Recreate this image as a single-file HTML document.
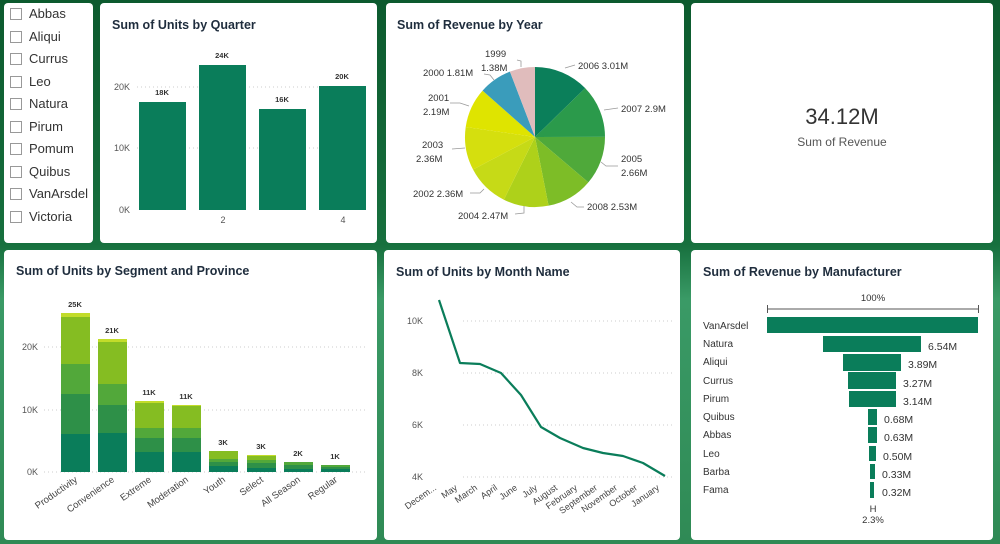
<!DOCTYPE html>
<html><head><meta charset="utf-8"><style>
html,body{margin:0;padding:0;width:1000px;height:544px;overflow:hidden;font-family:"Liberation Sans",sans-serif}
svg text{font-family:"Liberation Sans",sans-serif}
</style></head><body>
<svg id="s" width="1000" height="544" viewBox="0 0 1000 544" xmlns="http://www.w3.org/2000/svg">
<defs>
<linearGradient id="bg" x1="0" y1="0" x2="0" y2="1">
<stop offset="0" stop-color="#0c5a2e"/><stop offset="0.45" stop-color="#17703e"/><stop offset="0.55" stop-color="#3a9a66"/><stop offset="1" stop-color="#2f8a55"/>
</linearGradient>
</defs>
<rect width="1000" height="544" fill="url(#bg)"/>
<g fill="#fff">
<rect x="4" y="3" width="89" height="240" rx="4"/>
<rect x="100" y="3" width="277" height="240" rx="4"/>
<rect x="386" y="3" width="298" height="240" rx="4"/>
<rect x="691" y="3" width="302" height="240" rx="4"/>
<rect x="4" y="250" width="373" height="290" rx="4"/>
<rect x="384" y="250" width="296" height="290" rx="4"/>
<rect x="691" y="250" width="302" height="290" rx="4"/>
</g>
<!-- slicer -->
<g font-size="13" fill="#333">
<g fill="#fff" stroke="#999" stroke-width="1">
<rect x="10.5" y="8.5" width="11" height="11"/><rect x="10.5" y="31.5" width="11" height="11"/><rect x="10.5" y="53.5" width="11" height="11"/><rect x="10.5" y="76.5" width="11" height="11"/><rect x="10.5" y="98.5" width="11" height="11"/><rect x="10.5" y="121.5" width="11" height="11"/><rect x="10.5" y="143.5" width="11" height="11"/><rect x="10.5" y="166.5" width="11" height="11"/><rect x="10.5" y="188.5" width="11" height="11"/><rect x="10.5" y="211.5" width="11" height="11"/>
</g>
<text x="29" y="18">Abbas</text><text x="29" y="41">Aliqui</text><text x="29" y="63">Currus</text><text x="29" y="86">Leo</text><text x="29" y="108">Natura</text><text x="29" y="131">Pirum</text><text x="29" y="153">Pomum</text><text x="29" y="176">Quibus</text><text x="29" y="198">VanArsdel</text><text x="29" y="221">Victoria</text>
</g>
<!-- titles -->
<g font-size="12.5" font-weight="bold" fill="#1f2d3d">
<text x="112" y="29">Sum of Units by Quarter</text>
<text x="397" y="29">Sum of Revenue by Year</text>
<text x="16" y="275">Sum of Units by Segment and Province</text>
<text x="396" y="276">Sum of Units by Month Name</text>
<text x="703" y="276">Sum of Revenue by Manufacturer</text>
</g>
<!-- quarter -->
<g font-size="9" fill="#555">
<line x1="137" y1="87" x2="368" y2="87" stroke="#ccc" stroke-dasharray="1,3"/>
<line x1="137" y1="148" x2="368" y2="148" stroke="#ccc" stroke-dasharray="1,3"/>
<text x="130" y="90" text-anchor="end">20K</text><text x="130" y="151" text-anchor="end">10K</text><text x="130" y="213" text-anchor="end">0K</text>
<g fill="#0a7d5a"><rect x="139" y="102" width="47" height="108"/><rect x="199" y="65" width="47" height="145"/><rect x="259" y="109" width="47" height="101"/><rect x="319" y="86" width="47" height="124"/></g>
<g font-size="7.5" font-weight="bold" fill="#333" text-anchor="middle"><text x="162" y="95">18K</text><text x="222" y="58">24K</text><text x="282" y="102">16K</text><text x="342" y="79">20K</text></g>
<text x="223" y="223" text-anchor="middle">2</text><text x="343" y="223" text-anchor="middle">4</text>
</g>
<!-- pie -->
<g id="pie"></g>
<g font-size="9.5" fill="#333">
<text x="578" y="69">2006 3.01M</text><text x="621" y="112">2007 2.9M</text>
<text x="621" y="162">2005</text><text x="621" y="176">2.66M</text>
<text x="587" y="210">2008 2.53M</text><text x="458" y="219">2004 2.47M</text>
<text x="413" y="197">2002 2.36M</text>
<text x="422" y="148">2003</text><text x="416" y="162">2.36M</text>
<text x="428" y="101">2001</text><text x="423" y="115">2.19M</text>
<text x="423" y="76">2000 1.81M</text>
<text x="485" y="57">1999</text><text x="481" y="71">1.38M</text>
</g>
<g stroke="#999" fill="none" stroke-width="0.8">
<polyline points="565,68 575,65"/><polyline points="604,110 618,108"/><polyline points="601,162 606,166 618,166"/><polyline points="571,202 577,207 584,207"/><polyline points="524,206 524,213 515,214"/><polyline points="484,189 480,193 470,193"/><polyline points="465,148 452,149"/><polyline points="469,106 460,103 450,103"/><polyline points="494,80 490,75 484,74"/><polyline points="521,67 521,61 517,60"/>
</g>
<!-- card -->
<text x="842" y="124" font-size="22" fill="#333" text-anchor="middle">34.12M</text>
<text x="842" y="146" font-size="12" fill="#555" text-anchor="middle">Sum of Revenue</text>
<!-- segment -->
<g font-size="9" fill="#555">
<line x1="44" y1="347" x2="368" y2="347" stroke="#ccc" stroke-dasharray="1,3"/>
<line x1="44" y1="410" x2="368" y2="410" stroke="#ccc" stroke-dasharray="1,3"/>
<line x1="44" y1="472" x2="368" y2="472" stroke="#ccc" stroke-dasharray="1,3"/>
<text x="38" y="350" text-anchor="end">20K</text><text x="38" y="413" text-anchor="end">10K</text><text x="38" y="475" text-anchor="end">0K</text>
</g>
<g id="seg"></g>
<g font-size="7.5" font-weight="bold" fill="#333" text-anchor="middle">
<text x="75" y="307">25K</text><text x="112" y="333">21K</text><text x="149" y="395">11K</text><text x="186" y="399">11K</text><text x="223" y="445">3K</text><text x="261" y="449">3K</text><text x="298" y="456">2K</text><text x="335" y="459">1K</text>
</g>
<g font-size="9.5" fill="#444" text-anchor="end">
<text transform="translate(78,481) rotate(-35)">Productivity</text>
<text transform="translate(115,481) rotate(-35)">Convenience</text>
<text transform="translate(152,481) rotate(-35)">Extreme</text>
<text transform="translate(189,481) rotate(-35)">Moderation</text>
<text transform="translate(226,481) rotate(-35)">Youth</text>
<text transform="translate(264,481) rotate(-35)">Select</text>
<text transform="translate(301,481) rotate(-35)">All Season</text>
<text transform="translate(338,481) rotate(-35)">Regular</text>
</g>
<!-- month -->
<g font-size="9" fill="#555">
<g stroke="#ccc" stroke-dasharray="1,3"><line x1="463" y1="321" x2="673" y2="321"/><line x1="463" y1="373" x2="673" y2="373"/><line x1="463" y1="425" x2="673" y2="425"/><line x1="463" y1="477" x2="673" y2="477"/></g>
<text x="423" y="324" text-anchor="end">10K</text><text x="423" y="376" text-anchor="end">8K</text><text x="423" y="428" text-anchor="end">6K</text><text x="423" y="480" text-anchor="end">4K</text>
</g>
<polyline fill="none" stroke="#0a7d5a" stroke-width="2.2" stroke-linejoin="round" points="439,300 460,363 480,364 501,373 521,395 541,427 560,438 583,448 603,453 623,456 643,463 665,476"/>
<g font-size="9" fill="#444" text-anchor="end">
<text transform="translate(437,489) rotate(-35)">Decem...</text>
<text transform="translate(458,489) rotate(-35)">May</text>
<text transform="translate(478,489) rotate(-35)">March</text>
<text transform="translate(498,489) rotate(-35)">April</text>
<text transform="translate(518,489) rotate(-35)">June</text>
<text transform="translate(538,489) rotate(-35)">July</text>
<text transform="translate(558,489) rotate(-35)">August</text>
<text transform="translate(578,489) rotate(-35)">February</text>
<text transform="translate(598,489) rotate(-35)">September</text>
<text transform="translate(618,489) rotate(-35)">November</text>
<text transform="translate(638,489) rotate(-35)">October</text>
<text transform="translate(660,489) rotate(-35)">January</text>
</g>
<!-- manufacturer -->
<g font-size="10" fill="#333">
<text x="873" y="301" text-anchor="middle" font-size="9.5">100%</text>
<path d="M767.5,305v8M767.5,309H978.5M978.5,305v8" stroke="#555" fill="none"/>
<g fill="#0a7d5a">
<rect x="767" y="317" width="211" height="16"/><rect x="823" y="336" width="98" height="16"/><rect x="843" y="354" width="58" height="17"/><rect x="848" y="372" width="48" height="17"/><rect x="849" y="391" width="47" height="16"/><rect x="868" y="409" width="9" height="16"/><rect x="868" y="427" width="9" height="16"/><rect x="869" y="446" width="7" height="15"/><rect x="870" y="464" width="5" height="15"/><rect x="870" y="482" width="4" height="16"/>
</g>
<text x="703" y="329">VanArsdel</text><text x="703" y="347">Natura</text><text x="703" y="365">Aliqui</text><text x="703" y="384">Currus</text><text x="703" y="402">Pirum</text><text x="703" y="420">Quibus</text><text x="703" y="438">Abbas</text><text x="703" y="457">Leo</text><text x="703" y="475">Barba</text><text x="703" y="493">Fama</text>
<g font-size="10.5"><text x="928" y="350">6.54M</text><text x="908" y="368">3.89M</text><text x="903" y="387">3.27M</text><text x="903" y="405">3.14M</text><text x="884" y="423">0.68M</text><text x="884" y="441">0.63M</text><text x="883" y="460">0.50M</text><text x="882" y="478">0.33M</text><text x="882" y="496">0.32M</text></g>
<text x="873" y="512" text-anchor="middle" font-size="9.5">H</text>
<text x="873" y="523" text-anchor="middle" font-size="9.5">2.3%</text>
</g>
</svg>
<script>
(function(){
var NS="http://www.w3.org/2000/svg";
var vals=[3.01,2.9,2.66,2.53,2.47,2.36,2.36,2.19,1.81,1.38];
var cols=["#0b7f5a","#2b9a4b","#4fa93a","#7dbd27","#aed11a","#c6da17","#d5df0e","#dfe400","#3a9cbb","#e0bcbc"];
var tot=vals.reduce(function(a,b){return a+b},0),cx=535,cy=137,r=70,a=-Math.PI/2,g=document.getElementById("pie");
vals.forEach(function(v,i){var b=a+v/tot*2*Math.PI;
var p=document.createElementNS(NS,"path");
p.setAttribute("d","M"+cx+","+cy+"L"+(cx+r*Math.cos(a))+","+(cy+r*Math.sin(a))+"A"+r+","+r+" 0 0 1 "+(cx+r*Math.cos(b))+","+(cy+r*Math.sin(b))+"Z");
p.setAttribute("fill",cols[i]);g.appendChild(p);a=b;});
var sc=["#0a7d5a","#2e9048","#52a83a","#85bd22","#c2dc2a"];
var X=[61,98,135,172,209,247,284,321];
var B=[[472,434,394,364,317,313],[472,433,405,384,342,339],[472,452,438,428,403,401],[472,452,438,428,406,405],[472,466,462,459,451,451],[472,468,463,460,456,455],[472,469,465,462,462,462],[472,469,467,465,465,465]];
var sg=document.getElementById("seg");
B.forEach(function(bs,i){for(var k=0;k<5;k++){var h=bs[k]-bs[k+1];if(h<=0)continue;
var rc=document.createElementNS(NS,"rect");rc.setAttribute("x",X[i]);rc.setAttribute("width",29);rc.setAttribute("y",bs[k+1]);rc.setAttribute("height",h);rc.setAttribute("fill",sc[k]);sg.appendChild(rc);}});
})();
</script>
</body></html>
